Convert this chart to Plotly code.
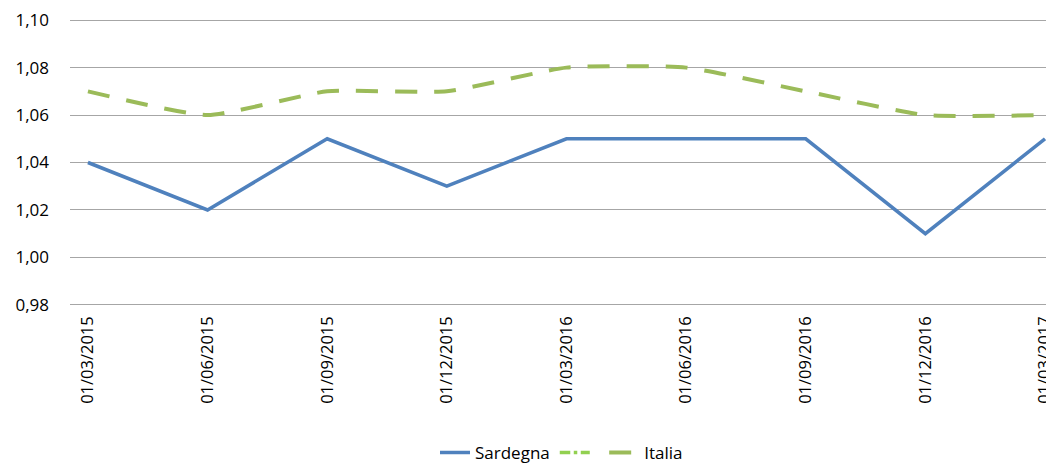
import plotly.graph_objects as go

categories = ["01/03/2015", "01/06/2015", "01/09/2015", "01/12/2015", "01/03/2016",
              "01/06/2016", "01/09/2016", "01/12/2016", "01/03/2017"]
sardegna = [1.04, 1.02, 1.05, 1.03, 1.05, 1.05, 1.05, 1.01, 1.05]
italia = [1.07, 1.06, 1.07, 1.07, 1.08, 1.08, 1.07, 1.06, 1.06]

fig = go.Figure()
fig.add_trace(go.Scatter(x=categories, y=sardegna, name="Sardegna", mode="lines",
                         line=dict(color="#4F81BD", width=3.5)))
fig.add_trace(go.Scatter(x=[categories[0]], y=[None], name=" ", mode="lines",
                         line=dict(color="#92D050", width=3.5, dash="dashdot")))
fig.add_trace(go.Scatter(x=categories, y=italia, name="Italia", mode="lines",
                         line=dict(color="#9BBB59", width=4, dash="22px,17px",
                                   shape="spline", smoothing=0.5)))

fig.update_layout(
    width=1054, height=464,
    margin=dict(l=62, r=9, t=11, b=166, autoexpand=False),
    paper_bgcolor="white", plot_bgcolor="white",
    separators=",.",
    font=dict(family="Open Sans, Liberation Sans, sans-serif", size=17, color="#000000"),
    showlegend=True,
    legend=dict(orientation="h", x=0.5, xanchor="center", y=-0.512, yanchor="middle",
                font=dict(size=17), traceorder="normal"),
    xaxis=dict(type="category", range=[-0.15, 8.067], tickangle=-90, showgrid=False,
               showline=False, ticks="", tickfont=dict(size=16.5), automargin=False,
               ticklabeloverflow="allow", ticklabelstandoff=6),
    yaxis=dict(range=[0.9795, 1.1005], tickvals=[0.98, 1.00, 1.02, 1.04, 1.06, 1.08, 1.10],
               tickformat=".2f", showgrid=True,
               gridcolor="#A6A6A6", gridwidth=1, zeroline=False, showline=False,
               ticks="", tickfont=dict(size=17), ticklabelstandoff=20, automargin=False),
)
fig.write_html("out.html")
